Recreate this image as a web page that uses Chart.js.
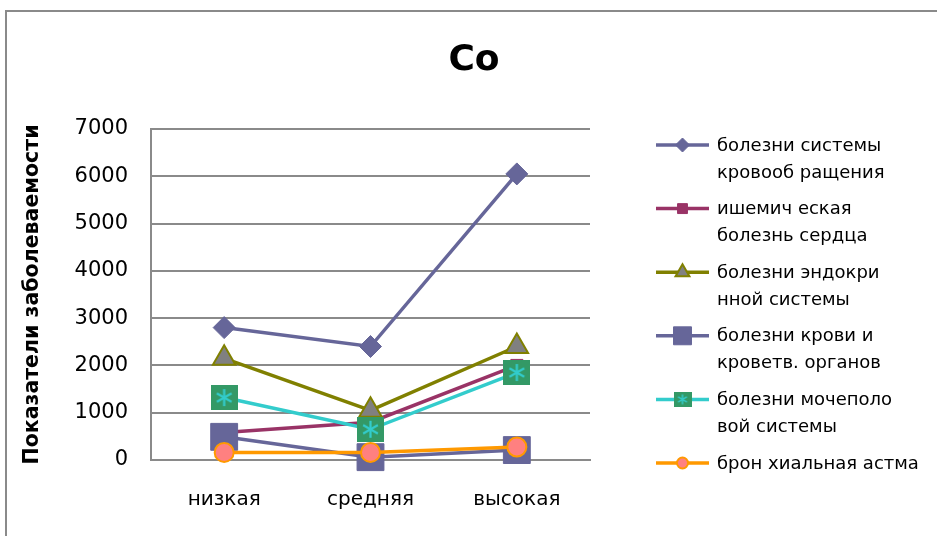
<!DOCTYPE html>
<html lang="ru">
<head>
<meta charset="utf-8">
<title>Co</title>
<script src="https://cdn.jsdelivr.net/npm/chart.js@4.4.1/dist/chart.umd.min.js"></script>
<style>
  html, body { margin: 0; padding: 0; background: #ffffff; }
  #wrap { width: 937px; height: 536px; position: relative; }
  canvas { display: block; }
</style>
</head>
<body>
<div id="wrap"><canvas id="chart" width="937" height="536"></canvas></div>
<script>
// Chart title and axis title
const TITLE = 'Co';
const Y_TITLE = 'Показатели заболеваемости';

// Categories along the horizontal axis
const categories = ['низкая', 'средняя', 'высокая'];

// Y axis range and step
const Y_MIN = 0;
const Y_MAX = 7000;
const Y_STEP = 1000;

// Legend names, split into the lines shown in the legend
const name1 = ['болезни системы', 'кровооб ращения'];
const name2 = ['ишемич еская', 'болезнь сердца'];
const name3 = ['болезни эндокри', 'нной системы'];
const name4 = ['болезни крови и', 'кроветв. органов'];
const name5 = ['болезни мочеполо', 'вой системы'];
const name6 = ['брон хиальная астма'];

// Series values per category
const circulatory = [2800, 2400, 6050];
const ischemic    = [580, 800, 2000];
const endocrine   = [2150, 1050, 2400];
const blood       = [490, 60, 210];
const urogenital  = [1320, 650, 1850];
const asthma      = [160, 160, 275];

// Green square marker with a cyan asterisk
function starSquare(w, h) {
  const c = document.createElement('canvas');
  c.width = w; c.height = h;
  const g = c.getContext('2d');
  g.fillStyle = '#339966';
  g.fillRect(0, 0, w, h);
  g.strokeStyle = '#33CCCC';
  g.lineWidth = Math.max(1.5, w / 12);
  g.lineCap = 'butt';
  const cx = w / 2, cy = h / 2, r = Math.min(w, h) * 0.34;
  [90, 30, 150].forEach(a => {
    const rad = a * Math.PI / 180;
    g.beginPath();
    g.moveTo(cx - Math.cos(rad) * r, cy - Math.sin(rad) * r);
    g.lineTo(cx + Math.cos(rad) * r, cy + Math.sin(rad) * r);
    g.stroke();
  });
  return c;
}
const starBig = starSquare(27, 25);
const starSmall = starSquare(18, 15);

const seriesDefs = [
  { lines: name1, data: circulatory, color: '#666699', fill: '#666699', edge: '#666699', style: 'rectRot', r: 11, lr: 7, bw: 1 },
  { lines: name2, data: ischemic,    color: '#993366', fill: '#993366', edge: '#993366', style: 'rect',    r: 8.5, lr: 7, bw: 1 },
  { lines: name3, data: endocrine,   color: '#808000', fill: '#808080', edge: '#808000', style: 'triangle', r: 13, lr: 8, bw: 2 },
  { lines: name4, data: blood,       color: '#666699', fill: '#666699', edge: '#666699', style: 'rect',    r: 19, lr: 12.7, bw: 1 },
  { lines: name5, data: urogenital,  color: '#33CCCC', fill: '#339966', edge: '#339966', style: starBig, legendStyle: starSmall, r: 13, lr: 9, bw: 0 },
  { lines: name6, data: asthma,      color: '#FF9900', fill: '#FF8080', edge: '#FF9900', style: 'circle',  r: 9.5, lr: 5.5, bw: 2 }
];

const datasets = seriesDefs.map((s, i) => ({
  label: s.lines.join(' '),
  data: s.data,
  borderColor: s.color,
  backgroundColor: s.fill,
  borderWidth: 3.5,
  tension: 0,
  pointStyle: s.style,
  pointRadius: s.r,
  pointHoverRadius: s.r,
  pointBackgroundColor: s.fill,
  pointBorderColor: s.edge,
  pointBorderWidth: s.bw,
  clip: false,
  order: seriesDefs.length - i
}));

// Frame, title and legend drawn on the canvas
const decorations = {
  id: 'decorations',
  beforeDraw(chart) {
    const ctx = chart.ctx;
    ctx.save();
    ctx.fillStyle = '#ffffff';
    ctx.fillRect(0, 0, chart.width, chart.height);
    ctx.strokeStyle = '#8a8a8a';
    ctx.lineWidth = 2;
    ctx.strokeRect(6, 11, 2000, 2000);
    ctx.restore();
  },
  afterDraw(chart) {
    const ctx = chart.ctx;
    ctx.save();
    ctx.fillStyle = '#000000';
    ctx.font = "bold 36px 'DejaVu Sans'";
    ctx.textAlign = 'center';
    ctx.textBaseline = 'middle';
    ctx.fillText(TITLE, 474, 61);

    const x0 = 656, x1 = 709, mx = 682.5, tx = 717;
    const top = 145, gap = 63.6, lh = 27;
    ctx.font = "18px 'DejaVu Sans'";
    ctx.textAlign = 'left';
    chart.data.datasets.forEach((ds, i) => {
      const s = seriesDefs[i];
      const y = top + i * gap;
      ctx.strokeStyle = ds.borderColor;
      ctx.lineWidth = 3.5;
      ctx.beginPath();
      ctx.moveTo(x0, y);
      ctx.lineTo(x1, y);
      ctx.stroke();
      ctx.fillStyle = s.fill;
      ctx.strokeStyle = s.edge;
      ctx.lineWidth = s.bw;
      Chart.helpers.drawPoint(ctx, {
        pointStyle: s.legendStyle || s.style,
        radius: s.lr,
        rotation: 0,
        borderWidth: s.bw
      }, mx, y);
      ctx.fillStyle = '#000000';
      s.lines.forEach((t, k) => ctx.fillText(t, tx, y + 1 + k * lh));
    });
    ctx.restore();
  }
};

Chart.defaults.font.family = "'DejaVu Sans'";
Chart.defaults.color = '#000000';

new Chart(document.getElementById('chart'), {
  type: 'line',
  data: { labels: categories, datasets },
  options: {
    responsive: false,
    animation: false,
    layout: { padding: { left: 0, top: 129, right: 347, bottom: 0 } },
    plugins: {
      legend: { display: false },
      title: { display: false },
      tooltip: { enabled: false }
    },
    scales: {
      x: {
        type: 'category',
        offset: true,
        grid: { display: false, drawTicks: false },
        border: { display: true, color: '#8a8a8a', width: 2 },
        ticks: { font: { size: 20 }, padding: 28, color: '#000000' },
        afterFit(scale) { scale.height = 76; }
      },
      y: {
        min: Y_MIN,
        max: Y_MAX,
        grid: { color: '#8a8a8a', lineWidth: 2, drawTicks: false },
        border: { display: true, color: '#8a8a8a', width: 2 },
        ticks: {
          stepSize: Y_STEP,
          font: { size: 21 },
          padding: 23,
          color: '#000000',
          callback: (v) => String(v)
        },
        title: {
          display: true,
          text: Y_TITLE,
          font: { family: "'DejaVu Sans'", size: 20.5, weight: 'bold' },
          padding: { top: 20, bottom: 0 },
          color: '#000000'
        },
        afterFit(scale) { scale.width = 151; }
      }
    }
  },
  plugins: [decorations]
});
</script>
</body>
</html>
